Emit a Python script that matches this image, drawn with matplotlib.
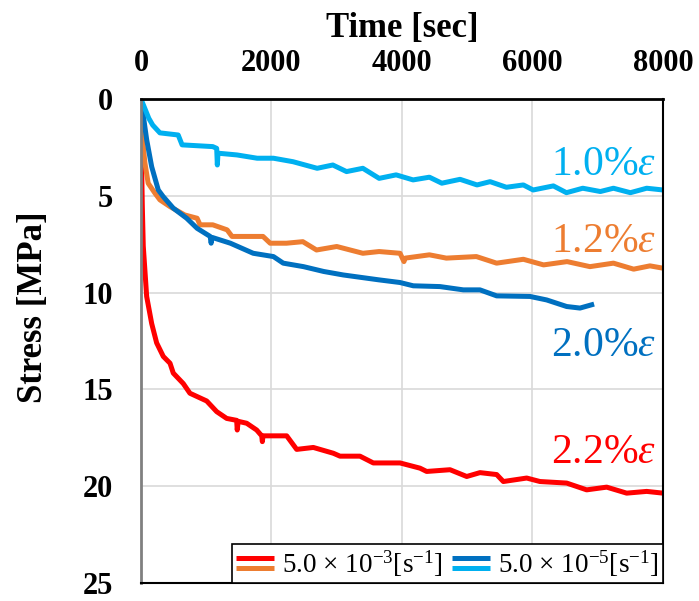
import numpy as np
import matplotlib
matplotlib.use("Agg")
import matplotlib.pyplot as plt
from matplotlib.legend_handler import HandlerBase
from matplotlib.lines import Line2D

plt.rcParams['font.family'] = ['Liberation Serif', 'DejaVu Serif']
plt.rcParams['mathtext.fontset'] = 'custom'
plt.rcParams['mathtext.rm'] = 'Liberation Serif'
plt.rcParams['mathtext.it'] = 'Liberation Serif:italic'
plt.rcParams['mathtext.bf'] = 'Liberation Serif:bold'

# 2.2% (5.0e-3 s^-1)
t_22 = [0, 10, 20, 35, 87, 164, 189, 240, 342, 445, 495, 648, 750, 1007, 1160, 1313,
        1466, 1475, 1490, 1620, 1773, 1850, 1860, 1870, 2028, 2233, 2386, 2641, 2948,
        3050, 3356, 3560, 3867, 3970, 4276, 4378, 4736, 4992, 5195, 5451, 5553, 5911,
        6115, 6524, 6830, 7137, 7443, 7750, 8000]
s_22 = [0, 3.5, 5.5, 7.6, 10.2, 11.6, 11.93, 12.6, 13.3, 13.65, 14.16, 14.7, 15.2, 15.6,
        16.15, 16.5, 16.6, 17.1, 16.65, 16.75, 17.1, 17.4, 17.7, 17.4, 17.4, 17.4, 18.1,
        18.0, 18.3, 18.45, 18.45, 18.8, 18.8, 18.8, 19.07, 19.24, 19.15, 19.5, 19.3, 19.4,
        19.76, 19.58, 19.76, 19.84, 20.19, 20.05, 20.36, 20.27, 20.36]

# 1.2% (5.0e-3 s^-1)
t_12 = [0, 10, 60, 110, 215, 290, 445, 670, 860, 905, 1100, 1320, 1395, 1870, 1980, 2230,
        2480, 2690, 3000, 3400, 3650, 3970, 4030, 4050, 4420, 4680, 5140, 5450, 5860,
        6170, 6530, 6880, 7240, 7550, 7800, 8000]
s_12 = [0, 1.6, 3.3, 4.35, 4.87, 5.21, 5.56, 5.99, 6.16, 6.5, 6.5, 6.76, 7.1, 7.1, 7.45,
        7.45, 7.37, 7.8, 7.62, 7.97, 7.88, 7.97, 8.4, 8.22, 8.05, 8.22, 8.14, 8.48, 8.28,
        8.57, 8.4, 8.66, 8.48, 8.79, 8.62, 8.74]

# 2.0% (5.0e-5 s^-1)
t_20 = [0, 87, 164, 265, 340, 495, 700, 860, 1060, 1075, 1090, 1370, 1720, 2030, 2180,
        2490, 2800, 3100, 3640, 3969, 4173, 4582, 4940, 5195, 5451, 5962, 6217, 6524,
        6728, 6907]
s_20 = [0, 2.1, 3.5, 4.7, 5.04, 5.64, 6.16, 6.68, 7.1, 7.45, 7.15, 7.45, 7.97, 8.14, 8.48,
        8.66, 8.91, 9.09, 9.34, 9.48, 9.65, 9.69, 9.86, 9.86, 10.17, 10.2, 10.38, 10.72,
        10.8, 10.63]

# 1.0% (5.0e-5 s^-1)
t_10 = [0, 60, 120, 180, 290, 570, 630, 1100, 1160, 1170, 1180, 1470, 1780, 2030, 2330,
        2700, 2940, 3150, 3400, 3650, 3910, 4170, 4420, 4610, 4890, 5150, 5350, 5600,
        5860, 6010, 6320, 6520, 6770, 7040, 7240, 7500, 7750, 8000]
s_10 = [0, 0.5, 1.0, 1.35, 1.75, 1.86, 2.37, 2.46, 2.55, 3.41, 2.8, 2.89, 3.06, 3.06, 3.24,
        3.58, 3.41, 3.75, 3.58, 4.1, 3.92, 4.18, 4.04, 4.35, 4.15, 4.44, 4.27, 4.56, 4.44,
        4.7, 4.49, 4.84, 4.61, 4.78, 4.61, 4.84, 4.61, 4.7]

c_red = '#FF0000'
c_orange = '#ED7D31'
c_dblue = '#0070C0'
c_lblue = '#00B0F0'


class StackHandler(HandlerBase):
    # two short lines stacked on top of each other
    def create_artists(self, legend, orig_handle, xdescent, ydescent, width, height,
                       fontsize, trans):
        arts = []
        for i, h in enumerate(orig_handle):
            y = height / 2 - ydescent + (5.0 - 10 * i) * 0.72
            ln = Line2D([-xdescent, -xdescent + width], [y, y], color=h.get_color(),
                        lw=h.get_linewidth(), solid_capstyle='butt', transform=trans)
            arts.append(ln)
        return arts


fig = plt.figure(figsize=(6.99, 6.01), dpi=100)
ax = fig.add_axes([0.2017, 0.030, 0.7468, 0.8053])

lw = 3.6
l1, = ax.plot(t_22, s_22, color=c_red, lw=lw)
l2, = ax.plot(t_12, s_12, color=c_orange, lw=lw)
l3, = ax.plot(t_20, s_20, color=c_dblue, lw=lw)
l4, = ax.plot(t_10, s_10, color=c_lblue, lw=lw)

ax.set_xlim(0, 8000)
ax.set_ylim(25, 0)
ax.set_xticks([0, 2000, 4000, 6000, 8000])
ax.set_yticks([0, 5, 10, 15, 20, 25])
ax.xaxis.tick_top()
ax.tick_params(axis='x', length=0, pad=15, labelsize=22)
ax.tick_params(axis='y', length=0, pad=20, labelsize=22)
for lab in ax.get_xticklabels() + ax.get_yticklabels():
    lab.set_fontweight('bold')
ax.grid(True, color='#d9d9d9', lw=1.2)
ax.set_axisbelow(True)

ax.xaxis.set_label_position('top')
ax.set_xlabel('Time [sec]', fontsize=25, fontweight='bold')
ax.xaxis.set_label_coords(0.5, 1.128)
ax.set_ylabel('Stress [MPa]', fontsize=25, fontweight='bold')
ax.yaxis.set_label_coords(-0.174, 0.57)

for side in ['top', 'right', 'bottom']:
    ax.spines[side].set_color('black')
ax.spines['top'].set_linewidth(2)
ax.spines['right'].set_linewidth(1.5)
ax.spines['bottom'].set_linewidth(1.5)
ax.spines['left'].set_color('#808080')
ax.spines['left'].set_linewidth(2)

labels = ['1.0%$\\varepsilon$', '1.2%$\\varepsilon$', '2.0%$\\varepsilon$', '2.2%$\\varepsilon$']
lab_y = [3.92, 7.9, 13.3, 18.8]
lab_c = [c_lblue, c_orange, c_dblue, c_red]
for txt, yy, cc in zip(labels, lab_y, lab_c):
    ax.text(7900, yy, txt, color=cc, fontsize=30, ha='right', va='baseline')

leg = ax.legend([(l1, l2), (l3, l4)],
                ['5.0 \u00d7 10$^{\\mathrm{-3}}$[s$^{\\mathrm{-1}}$]',
                 '5.0 \u00d7 10$^{\\mathrm{-5}}$[s$^{\\mathrm{-1}}$]'],
                handler_map={tuple: StackHandler()}, loc='lower right', ncol=2,
                fontsize=19.5, frameon=True, fancybox=False, borderaxespad=0,
                handlelength=1.4, handletextpad=0.3, columnspacing=0.35,
                borderpad=0.15)
leg.get_frame().set_edgecolor('black')
leg.get_frame().set_linewidth(1.2)
leg.get_frame().set_alpha(1)

fig.savefig('out.png', dpi=100)
